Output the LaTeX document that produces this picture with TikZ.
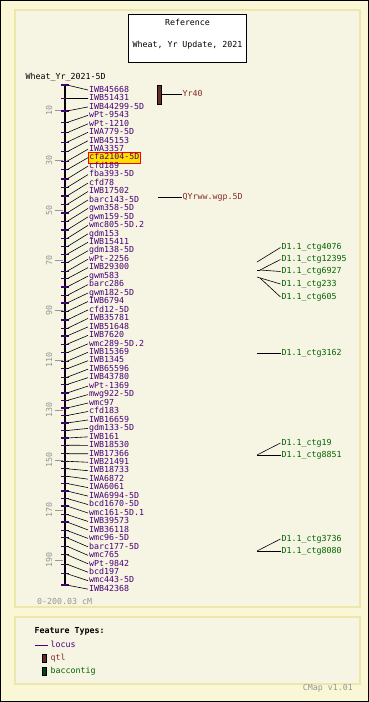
\documentclass[tikz,border=0pt]{standalone}
\usepackage{fontspec}
\setmonofont{DejaVu Sans Mono}
\usetikzlibrary{positioning}
\definecolor{pagebg}{RGB}{250,247,214}
\definecolor{panelbg}{RGB}{246,244,226}
\definecolor{panelrule}{RGB}{238,231,172}
\definecolor{locuscol}{RGB}{72,0,120}
\definecolor{qtlcol}{RGB}{135,45,40}
\definecolor{qtlbar}{RGB}{100,45,40}
\definecolor{ctgcol}{RGB}{0,100,0}
\definecolor{ctgbar}{RGB}{0,70,20}
\definecolor{scalecol}{RGB}{150,150,150}
\definecolor{hilitefill}{RGB}{255,225,0}
\tikzset{every node/.style = {font=\ttfamily\fontsize{8.3}{9}\selectfont, inner sep=0pt}}
\tikzset{lab/.style = {anchor=west, inner xsep=1pt, inner ysep=1.5pt, text height=6pt, text depth=1.5pt}}
\tikzset{locus/.style = {lab, text=locuscol}}
\tikzset{qtl/.style = {lab, text=qtlcol}}
\tikzset{ctg/.style = {lab, text=ctgcol}}
\tikzset{hilite/.style = {fill=hilitefill, draw=red, line width=0.8pt}}
\tikzset{link/.style = {draw=black, line width=0.6pt}}
\tikzset{lmark/.style = {draw=locuscol, line width=1.2pt}}
\tikzset{scalelab/.style = {text=scalecol, rotate=90}}
\tikzset{panel/.style = {fill=panelbg, draw=panelrule, line width=1.2pt}}
\tikzset{featbar/.style = {draw=black, line width=0.6pt, minimum width=4pt}}

\begin{document}
\begin{tikzpicture}[x=1pt, y=-1pt]
  \useasboundingbox (0,0) rectangle (369,702);
  \fill[pagebg] (0,0) rectangle (369,702);
  \draw[panel] (15,10) rectangle (360,607);
  \draw[panel] (15,617) rectangle (360,684);
  \draw[black, line width=1pt] (0.5,0.5) rectangle (368.5,701.5);

  % reference box
  \node[draw=black, line width=0.8pt, fill=white, minimum width=118pt, minimum height=48pt] (refbox) at (187.5,38.5) {};
  \node (reftitle) at (187.5,22.5) {Reference};
  \node (refname) at (187.5,45.5) {Wheat, Yr Update, 2021};

  \node[anchor=west] (mapname) at (25.5,77) {Wheat\_Yr\_2021-5D};

  % chromosome
  \coordinate (ctop) at (65,85);
  \coordinate (cbot) at (65,585);
  \draw[line width=2pt] (ctop) -- (cbot);
  \draw[line width=1.2pt] (61,85) -- (69,85);
  \draw[line width=1.2pt] (61,585) -- (69,585);

  % scale
  \foreach \v in {10,30,...,190} {
    \draw[scalecol, line width=0.8pt] (55,85+2.5*\v) -- (63,85+2.5*\v);
    \node[scalelab] (s\v) at (49,85+2.5*\v) {\v};
  }
  \node[anchor=west, text=scalecol] (range) at (37,601) {0-200.03 cM};

  % loci
  \foreach \nm/\cm [count=\i] in {IWB45668/0.0, IWB51431/5.4, IWB44299-5D/10.4, wPt-9543/15.0,
      wPt-1210/19.1, IWA779-5D/22.9, IWB45153/26.7, IWA3357/30.5, cfa2104-5D/33.9, cfd189/37.6,
      fba393-5D/41.0, cfd78/44.4, IWB17502/47.8, barc143-5D/51.2, gwm358-5D/54.6, gwm159-5D/58.0,
      wmc805-5D.2/61.4, gdm153/64.7, IWB15411/67.7, gdm138-5D/71.1, wPt-2256/74.5, IWB29300/77.5,
      gwm583/80.8, barc286/84.2, gwm182-5D/87.2, IWB6794/90.6, cfd12-5D/94.0, IWB35781/97.4,
      IWB51648/100.4, IWB7620/103.7, wmc289-5D.2/107.1, IWB15369/110.5, IWB1345/113.5,
      IWB65596/116.9, IWB43780/119.8, wPt-1369/123.2, mwg922-5D/126.2, wmc97/129.2, cfd183/132.2,
      IWB16659/135.2, gdm133-5D/138.2, IWB161/141.2, IWB18530/144.1, IWB17366/147.5,
      IWB21491/150.5, IWB18733/153.5, IWA6872/156.5, IWA6061/159.4, IWA6994-5D/162.4,
      bcd1670-5D/165.4, wmc161-5D.1/168.4, IWB39573/171.8, IWB36118/174.8, wmc96-5D/178.2,
      barc177-5D/181.1, wmc765/184.5, wPt-9842/187.9, bcd197/191.7, wmc443-5D/195.5,
      IWB42368/200.03} {
    \coordinate (m\i) at (67,85+2.5*\cm);
    \draw[lmark] (61,85+2.5*\cm) -- (69,85+2.5*\cm);
    \ifnum\i=9
      \node[locus, hilite] (l\i) at (88,90+8.46*\i-8.46) {\nm};
    \else
      \node[locus] (l\i) at (88,90+8.46*\i-8.46) {\nm};
    \fi
    \draw[link] (m\i) -- (l\i.west);
  }

  % qtl
  \node[featbar, fill=qtlbar, minimum height=19pt] (q1) at (159,94.5) {};
  \node[qtl] (yr40) at (181.5,94.5) {Yr40};
  \draw[link] (q1.east) -- (yr40.west);
  \coordinate (q2) at (158,197);
  \node[qtl] (qyr) at (181.5,197) {QYrww.wgp.5D};
  \draw[link] (q2) -- (qyr.west);

  % baccontigs
  \coordinate (c1) at (257,262);
  \coordinate (c2) at (260,270);
  \coordinate (c3) at (260,270);
  \coordinate (c4) at (257,277);
  \coordinate (c5) at (260,278);
  \coordinate (c6) at (257,353);
  \coordinate (c7) at (257,455);
  \coordinate (c8) at (257,455);
  \coordinate (c9) at (257,551);
  \coordinate (c10) at (257,551);
  \node[ctg] (g1) at (280.5,247.5) {D1.1\_ctg4076};
  \node[ctg] (g2) at (280.5,259.5) {D1.1\_ctg12395};
  \node[ctg] (g3) at (280.5,271.5) {D1.1\_ctg6927};
  \node[ctg] (g4) at (280.5,284) {D1.1\_ctg233};
  \node[ctg] (g5) at (280.5,297) {D1.1\_ctg605};
  \node[ctg] (g6) at (280.5,353) {D1.1\_ctg3162};
  \node[ctg] (g7) at (280.5,443) {D1.1\_ctg19};
  \node[ctg] (g8) at (280.5,455) {D1.1\_ctg8851};
  \node[ctg] (g9) at (280.5,539) {D1.1\_ctg3736};
  \node[ctg] (g10) at (280.5,551) {D1.1\_ctg8080};
  \draw[link] (257,262) -- (c1);
  \draw[link] (257,270) -- (c2);
  \foreach \k in {1,...,10}
    \draw[link] (c\k) -- (g\k.west);

  % legend
  \node[anchor=west] (ftitle) at (34.5,631.5) {\bfseries Feature Types:};
  \coordinate (lg1) at (35,645);
  \coordinate (lg2) at (48,645);
  \draw[locuscol, line width=1pt] (lg1) -- (lg2);
  \node[locus] (lglocus) at (49.5,645) {locus};
  \node[featbar, fill=qtlbar, minimum height=8pt] (lgqtl) at (44,658) {};
  \node[qtl] (lgqtltext) at (49.5,658) {qtl};
  \node[featbar, fill=ctgbar, minimum height=8pt] (lgctg) at (44,671) {};
  \node[ctg] (lgctgtext) at (49.5,671) {baccontig};
  \node[anchor=east, text=scalecol] (version) at (353,688.5) {CMap v1.01};
\end{tikzpicture}
\end{document}
